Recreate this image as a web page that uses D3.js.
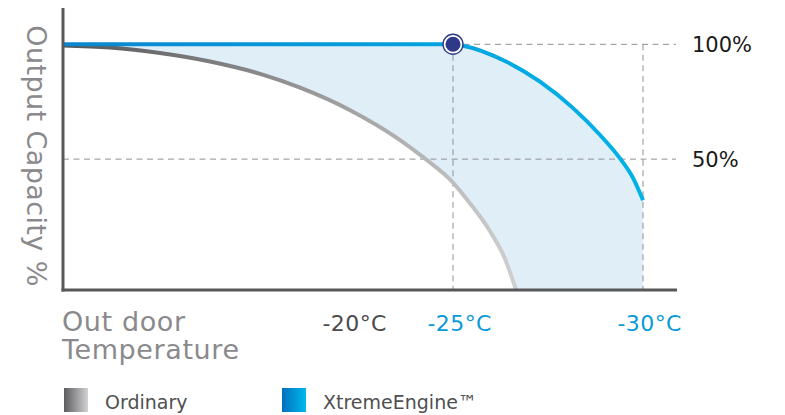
<!DOCTYPE html>
<html><head><meta charset="utf-8">
<script src="https://cdn.jsdelivr.net/npm/d3@7"></script>
<style>body{margin:0;background:#fff} svg{display:block}</style>
</head><body><svg id="c" width="785" height="415"></svg>
<script>
// ---- data ----
const xTickValues = [-20, -25, -30];
const highlightTicks = [-25, -30];
const yTickValues = [50, 100];
const ordinaryTemp = [-15, -15.82, -16.70, -17.58, -18.46, -19.16, -20.10, -22.48, -23.67, -25, -25.45, -25.97, -26.37, -26.66];
const ordinaryCap  = [99.5, 98.6, 96.2, 92.5, 87.1, 81.1, 71.3, 58.3, 50.2, 39.8, 30.7, 18.7, 6.5, -7];
const xtremeTemp = [-15, -20, -25, -25.26, -26.41, -27.29, -28.16, -28.87, -29.39, -29.74, -30];
const xtremeCap  = [100, 100, 100, 99.4, 92.4, 83.7, 72.2, 60.5, 50.4, 41.7, 32.1];
const markerTemp = -25, markerCap = 100;
const legendLabels = ["Ordinary", "XtremeEngine™"];
const titleX = ["Out door", "Temperature"];
const titleY = "Output Capacity %";

// ---- scales ----
const svg = d3.select("#c");
const x = d3.scaleLinear().domain([-15, -20, -25, -30]).range([63, 348, 453, 643]);
const y = d3.scaleLinear().domain([-7, 100]).range([290, 44.3]);
const FONT = "'DejaVu Sans', sans-serif";

const defs = svg.append("defs");
function grad(id, x1, x2, c1, c2) {
  const g = defs.append("linearGradient").attr("id", id)
    .attr("gradientUnits", x1 === null ? "objectBoundingBox" : "userSpaceOnUse");
  if (x1 !== null) g.attr("x1", x1).attr("x2", x2).attr("y1", 0).attr("y2", 0);
  g.append("stop").attr("offset", "0%").attr("stop-color", c1);
  g.append("stop").attr("offset", "100%").attr("stop-color", c2);
}
grad("gGray", x(-15), x(-26.66), "#555557", "#cfcfd0");
grad("gBlue", x(-15), x(-30), "#0a86d0", "#00b2e8");
grad("gGraySw", null, null, "#5d5d60", "#d2d2d4");
grad("gBlueSw", null, null, "#0070bf", "#00b9ec");

const ordinary = ordinaryTemp.map((t, i) => ({t, v: ordinaryCap[i]}));
const xtreme = xtremeTemp.map((t, i) => ({t, v: xtremeCap[i]}));

// fills
const area = d3.area().x(d => x(d.t)).y0(y(-7)).y1(d => y(d.v)).curve(d3.curveMonotoneX);
svg.append("path").datum(xtreme).attr("d", area).attr("fill", "#e0eff7");
svg.append("path").datum(ordinary).attr("d", area).attr("fill", "#ffffff");

// dashed grid
const dash = "6,4.5";
const grid = svg.append("g").attr("stroke", "#8f9093").attr("stroke-width", 1).attr("stroke-dasharray", dash).attr("fill", "none");
grid.append("line").attr("x1", x(-25)).attr("x2", 676).attr("y1", y(100)).attr("y2", y(100));
grid.append("line").attr("x1", x(-15)).attr("x2", 676).attr("y1", y(50)).attr("y2", y(50));
highlightTicks.forEach(t => grid.append("line").attr("x1", x(t)).attr("x2", x(t)).attr("y1", y(100)).attr("y2", y(-7)));

// lines
const line = d3.line().x(d => x(d.t)).y(d => y(d.v)).curve(d3.curveMonotoneX);
svg.append("path").datum(ordinary).attr("d", line).attr("fill", "none")
  .attr("stroke", "url(#gGray)").attr("stroke-width", 4);
svg.append("path").datum(xtreme).attr("d", line).attr("fill", "none")
  .attr("stroke", "url(#gBlue)").attr("stroke-width", 4);

// axes lines
svg.append("line").attr("x1", 63).attr("x2", 63).attr("y1", 8).attr("y2", 291.5)
  .attr("stroke", "#58585a").attr("stroke-width", 3);
svg.append("line").attr("x1", 61.5).attr("x2", 677).attr("y1", 290).attr("y2", 290)
  .attr("stroke", "#58585a").attr("stroke-width", 3);

// marker
svg.append("circle").attr("cx", x(markerTemp)).attr("cy", y(markerCap)).attr("r", 10)
  .attr("fill", "#fff").attr("stroke", "#2e3a87").attr("stroke-width", 1.4);
svg.append("circle").attr("cx", x(markerTemp)).attr("cy", y(markerCap)).attr("r", 7.5)
  .attr("fill", "#2e3a87");

// x axis labels
const xa = svg.append("g").attr("transform", "translate(0,290)")
  .call(d3.axisBottom(x).tickValues(xTickValues).tickSize(0).tickPadding(0).tickFormat(d => d + "°C"));
xa.select(".domain").remove();
xa.selectAll("text").attr("font-family", FONT).attr("font-size", 22).attr("letter-spacing", 0.4)
  .attr("dy", 0).attr("y", 41)
  .attr("text-anchor", "start").attr("dx", -26)
  .attr("fill", d => highlightTicks.includes(d) ? "#0a9ad8" : "#4a4a4c");

// y axis labels (right)
const ya = svg.append("g").attr("transform", "translate(692,0)")
  .call(d3.axisRight(y).tickValues(yTickValues).tickSize(0).tickPadding(0).tickFormat(d => d + "%"));
ya.select(".domain").remove();
ya.selectAll("text").attr("font-family", FONT).attr("font-size", 21).attr("fill", "#1a1a1a").attr("dy", "0.36em");

// titles
const tx = svg.append("text").attr("font-family", FONT).attr("font-size", 27).attr("letter-spacing", 0.6).attr("fill", "#8a8a8c");
tx.selectAll("tspan").data(titleX).join("tspan").attr("x", 62).attr("y", (d, i) => 331 + i * 28).text(d => d);
svg.append("text").attr("font-family", FONT).attr("font-size", 27).attr("letter-spacing", 0.4).attr("fill", "#8a8a8c")
  .attr("transform", "translate(27,156) rotate(90)").attr("text-anchor", "middle").text(titleY);

// legend
const lg = svg.append("g");
const legX = [64, 282];
lg.selectAll("rect").data(legendLabels).join("rect")
  .attr("x", (d, i) => legX[i]).attr("y", 388).attr("width", 24).attr("height", 24)
  .attr("fill", (d, i) => i === 0 ? "url(#gGraySw)" : "url(#gBlueSw)");
lg.selectAll("text").data(legendLabels).join("text")
  .attr("x", (d, i) => legX[i] + 41).attr("y", 409)
  .attr("font-family", FONT).attr("font-size", 19).attr("fill", "#4f4f51").text(d => d);
</script></body></html>
